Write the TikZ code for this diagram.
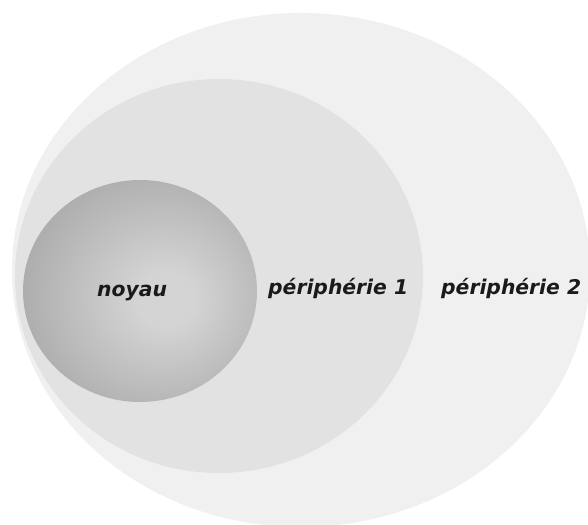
\documentclass[tikz,border=0pt]{standalone}
\usepackage{fontspec}
\setmainfont{DejaVu Sans}
\definecolor{outerc}{HTML}{F0F0F0}
\definecolor{midc}{HTML}{E2E2E2}
\definecolor{corein}{HTML}{D4D4D4}
\definecolor{coreout}{HTML}{878787}
\definecolor{txtc}{HTML}{1A1A1A}
\pgfdeclareradialshading{coreshade}{\pgfpoint{6bp}{-2bp}}{color(0bp)=(corein); color(6bp)=(corein); color(52bp)=(coreout); color(80bp)=(coreout)}
\begin{document}
\begin{tikzpicture}[x=1pt,y=-1pt,
  lbl/.style={font=\bfseries\itshape\fontsize{20.3}{24}\selectfont, text=txtc, inner sep=0pt, anchor=base west}]
\useasboundingbox (0,0) rectangle (588,524);
\clip (0,0) rectangle (588,524);
\fill[white] (0,0) rectangle (588,524);
\fill[outerc] (301,270) ellipse [x radius=289, y radius=257];
\fill[midc] (219,276) ellipse [x radius=204, y radius=197];
\shade[shading=coreshade] (140,291) ellipse [x radius=117, y radius=111];
\node[lbl] (noyau) at (97,296) {noyau};
\node[lbl] (per1) at (268,294) {périphérie 1};
\node[lbl] (per2) at (441,294) {périphérie 2};
\end{tikzpicture}
\end{document}
